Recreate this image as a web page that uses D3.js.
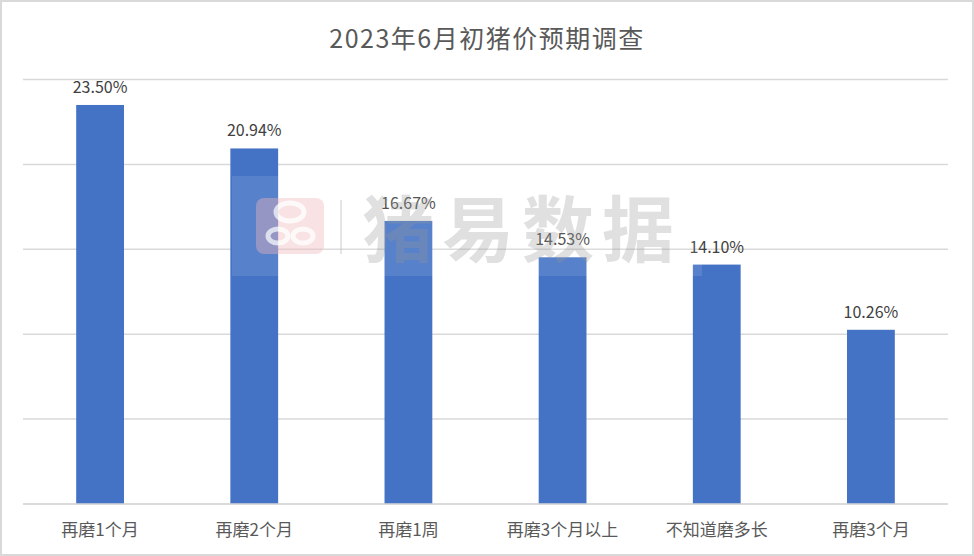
<!DOCTYPE html>
<html>
<head>
<meta charset="utf-8">
<script src="https://cdn.jsdelivr.net/npm/d3@7/dist/d3.min.js"></script>
<style>
  body { margin: 0; background: #fff; }
  text { font-family: "Noto Sans CJK SC", "Noto Sans", sans-serif; }
</style>
</head>
<body>
<svg id="chart"></svg>
<script>
const categories = ['再磨1个月', '再磨2个月', '再磨1周', '再磨3个月以上', '不知道磨多长', '再磨3个月'];
const values = [23.50, 20.94, 16.67, 14.53, 14.10, 10.26];
const gridTicks = [0, 5, 10, 15, 20, 25];
const title = '2023年6月初猪价预期调查';

const width = 974;
const height = 556;
const margin = { top: 80, right: 26, bottom: 52, left: 23 };

const svg = d3.select('#chart')
  .attr('width', width)
  .attr('height', height);

// outer frame
svg.append('rect')
  .attr('x', 1).attr('y', 1)
  .attr('width', width - 2).attr('height', height - 2)
  .attr('fill', '#fff')
  .attr('stroke', '#d9d9d9')
  .attr('stroke-width', 2);

const x = d3.scaleBand()
  .domain(categories)
  .range([margin.left, width - margin.right])
  .paddingInner(0.69)
  .paddingOuter(0.345);

const y = d3.scaleLinear()
  .domain([0, 25])
  .range([height - margin.bottom, margin.top - 0.5]);

// gridlines
svg.append('g')
  .selectAll('line')
  .data(gridTicks)
  .enter()
  .append('line')
  .attr('x1', margin.left)
  .attr('x2', width - margin.right)
  .attr('y1', d => y(d))
  .attr('y2', d => y(d))
  .attr('stroke', '#d9d9d9')
  .attr('stroke-width', 1.5);

svg.append('text')
  .attr('x', width / 2)
  .attr('y', 48)
  .attr('text-anchor', 'middle')
  .attr('fill', '#595959')
  .style('font-size', '25px')
  .style('letter-spacing', '1.5px')
  .text(title);

svg.append('g')
  .selectAll('rect')
  .data(values)
  .enter()
  .append('rect')
  .attr('x', (d, i) => x(categories[i]))
  .attr('y', d => y(d))
  .attr('width', x.bandwidth())
  .attr('height', d => y(0) - y(d))
  .attr('fill', '#4472c4');

svg.append('g')
  .selectAll('text')
  .data(values)
  .enter()
  .append('text')
  .attr('x', (d, i) => x(categories[i]) + x.bandwidth() / 2)
  .attr('y', d => y(d) - 12)
  .attr('text-anchor', 'middle')
  .attr('fill', '#404040')
  .style('font-size', '16px')
  .text(d => d.toFixed(2) + '%');

// baseline on top of bars
svg.append('line')
  .attr('x1', margin.left)
  .attr('x2', width - margin.right)
  .attr('y1', y(0))
  .attr('y2', y(0))
  .attr('stroke', '#d9d9d9')
  .attr('stroke-width', 1.5);

const xAxis = d3.axisBottom(x).tickSize(0).tickPadding(20);
const gx = svg.append('g')
  .attr('transform', `translate(0,${y(0)})`)
  .call(xAxis);
gx.select('.domain').remove();
gx.selectAll('text')
  .attr('fill', '#595959')
  .style('font-size', '17px')
  .style('font-family', '"Noto Sans CJK SC", sans-serif');

// watermark
const wm = svg.append('g').attr('opacity', 0.9);
wm.append('rect')
  .attr('x', 232).attr('y', 176)
  .attr('width', 470).attr('height', 100)
  .attr('fill', '#fff')
  .attr('opacity', 0.12);
wm.append('rect')
  .attr('x', 256).attr('y', 198)
  .attr('width', 68).attr('height', 56)
  .attr('rx', 8)
  .attr('fill', '#f2b8bd')
  .attr('opacity', 0.45);
wm.append('ellipse')
  .attr('cx', 290).attr('cy', 212)
  .attr('rx', 14).attr('ry', 9)
  .attr('fill', 'none')
  .attr('stroke', '#fff')
  .attr('stroke-width', 5)
  .attr('opacity', 0.8);
wm.append('ellipse')
  .attr('cx', 278).attr('cy', 236)
  .attr('rx', 10).attr('ry', 7)
  .attr('fill', 'none')
  .attr('stroke', '#fff')
  .attr('stroke-width', 5)
  .attr('opacity', 0.8);
wm.append('ellipse')
  .attr('cx', 303).attr('cy', 236)
  .attr('rx', 10).attr('ry', 7)
  .attr('fill', 'none')
  .attr('stroke', '#fff')
  .attr('stroke-width', 5)
  .attr('opacity', 0.8);
wm.append('line')
  .attr('x1', 341).attr('x2', 341)
  .attr('y1', 200).attr('y2', 254)
  .attr('stroke', '#bbb')
  .attr('stroke-width', 2)
  .attr('opacity', 0.4);
wm.append('text')
  .attr('x', 362)
  .attr('y', 256)
  .attr('fill', '#999')
  .attr('opacity', 0.33)
  .style('font-size', '72px')
  .style('font-weight', 'bold')
  .style('letter-spacing', '8px')
  .text('猪易数据');
</script>
</body>
</html>
